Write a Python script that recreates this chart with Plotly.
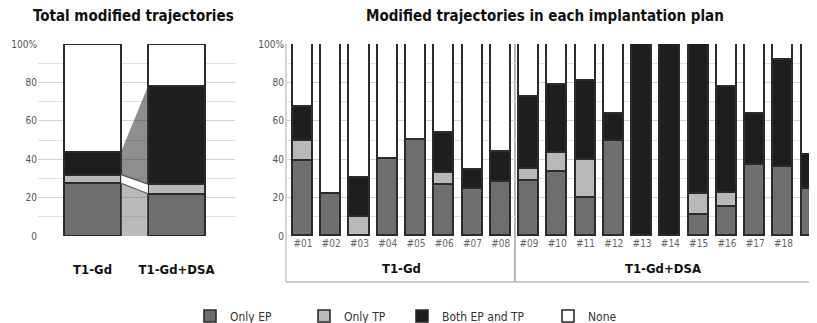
import plotly.graph_objects as go

# ---------------- data ----------------
series = ["Only EP", "Only TP", "Both EP and TP", "None"]
colors = ["#6e6e6e", "#b9b9b9", "#1e1e1e", "#ffffff"]

total_cats = ["T1-Gd", "T1-Gd+DSA"]
total_ep = [27.5, 22.0]
total_tp = [4.5, 5.0]
total_both = [12.0, 51.0]
total_none = [56.0, 22.0]

plan_cats = ["#01", "#02", "#03", "#04", "#05", "#06", "#07", "#08", "#09", "#10",
             "#11", "#12", "#13", "#14", "#15", "#16", "#17", "#18", "#19"]
plan_ep = [39.1, 21.7, 0.0, 40.3, 50.0, 26.6, 24.5, 28.2, 28.7, 33.2,
           19.7, 49.6, 0.0, 0.0, 11.0, 15.3, 37.0, 36.0, 24.5]
plan_tp = [10.5, 0.0, 9.9, 0.0, 0.0, 6.3, 0.0, 0.0, 6.1, 10.1,
           20.0, 0.0, 0.0, 0.0, 10.7, 7.3, 0.0, 0.0, 0.0]
plan_both = [17.4, 0.0, 20.5, 0.0, 0.0, 21.0, 9.8, 15.8, 37.4, 35.3,
             41.2, 13.9, 100.0, 100.0, 78.3, 55.1, 26.3, 55.7, 17.8]
plan_none = [33.0, 78.3, 69.6, 59.7, 50.0, 46.1, 65.7, 56.0, 27.8, 21.4,
             19.1, 36.5, 0.0, 0.0, 0.0, 22.3, 36.7, 8.3, 57.7]
groups = ["T1-Gd", "T1-Gd+DSA"]
group_sizes = [8, 11]

yticks = [0, 20, 40, 60, 80, 100]
ytick_text = ["0", "20", "40", "60", "80", "100%"]

FONT = "DejaVu Sans Condensed, Liberation Sans Narrow, sans-serif"

# The page body has an 8px default margin: the figure starts at (8, 8) in the window
OFF = 8
WIN_W, WIN_H = 817, 323
W, H = WIN_W - OFF, WIN_H - OFF


def fx(px):
    return (px - OFF) / W


def fy(py):
    return (WIN_H - py) / H


fig = go.Figure()

# ---- left panel: totals ----
tx = list(range(len(total_cats)))
bw_left = 0.68
tot_vals = [total_ep, total_tp, total_both, total_none]

# connectors between the two total bars (built from cumulative data)
cum0, cum1 = [0.0], [0.0]
for vals in tot_vals:
    cum0.append(cum0[-1] + vals[0])
    cum1.append(cum1[-1] + vals[1])
xa, xb = tx[0] + bw_left / 2, tx[1] - bw_left / 2
conn_fill = ["rgba(110,110,110,0.48)", "rgba(255,255,255,0.95)", "rgba(60,60,60,0.58)"]
for i in range(3):
    fig.add_trace(go.Scatter(x=[xa, xb, xb, xa, xa], y=[cum0[i], cum1[i], cum1[i + 1], cum0[i + 1], cum0[i]],
                             fill="toself", fillcolor=conn_fill[i], mode="lines",
                             line=dict(color="rgba(0,0,0,0)", width=0),
                             xaxis="x", yaxis="y", showlegend=False, hoverinfo="skip"))
for i in (1, 2):
    fig.add_trace(go.Scatter(x=[xa, xb], y=[cum0[i], cum1[i]], mode="lines",
                             line=dict(color="#555555", width=1.2),
                             xaxis="x", yaxis="y", showlegend=False, hoverinfo="skip"))

for name, vals, col in zip(series, tot_vals, colors):
    fig.add_trace(go.Bar(x=tx, y=vals, name=name, marker=dict(color=col, line=dict(color="#2b2b2b", width=2)),
                         width=bw_left, xaxis="x", yaxis="y", showlegend=False, cliponaxis=False,
                         hoverinfo="skip"))

# ---- right panel: each plan ----
px_ = list(range(len(plan_cats)))
plan_vals = [plan_ep, plan_tp, plan_both, plan_none]
legend_names = ["legend", "legend2", "legend3", "legend4"]
for name, vals, col, lg in zip(series, plan_vals, colors, legend_names):
    fig.add_trace(go.Bar(x=px_, y=vals, name=name, marker=dict(color=col, line=dict(color="#2b2b2b", width=1.6)),
                         width=0.71, xaxis="x2", yaxis="y2", showlegend=True, legend=lg, cliponaxis=False,
                         hoverinfo="skip"))

ydom = [fy(236), fy(44)]
yax = dict(range=[0, 100], tickvals=yticks, ticktext=ytick_text, showgrid=True, gridcolor="#d2d2d2",
           gridwidth=1, zeroline=False, showline=False, ticks="", domain=ydom, automargin=False,
           tickfont=dict(family=FONT, size=10, color="#555555"),
           minor=dict(dtick=10, showgrid=True, gridcolor="#e2e2e2"), fixedrange=True)

legend_x = [190, 304, 402, 548]
legend_common = dict(orientation="h", xanchor="left", y=fy(316), yanchor="middle",
                     font=dict(family=FONT, size=12, color="#333333"), itemwidth=30,
                     bgcolor="rgba(0,0,0,0)", borderwidth=0)

fig.update_layout(
    width=W, height=H, margin=dict(l=0, r=0, t=0, b=0, autoexpand=False),
    paper_bgcolor="white", plot_bgcolor="white",
    barmode="stack", bargap=0,
    font=dict(family=FONT, color="#222222"),
    xaxis=dict(domain=[fx(38), fx(235)], range=[-0.65, 1.696], tickvals=tx, ticktext=total_cats,
               showgrid=False, zeroline=False, showline=False, ticks="",
               tickfont=dict(family=FONT, size=13, color="#111111", weight="bold"),
               ticklabelstandoff=24, automargin=False),
    yaxis=yax,
    xaxis2=dict(domain=[fx(285), 1.0], range=[-0.637, 18.19], tickvals=px_, ticktext=plan_cats,
                showgrid=False, zeroline=False, showline=False, ticks="", automargin=False,
                tickfont=dict(family=FONT, size=10, color="#666666")),
    yaxis2=dict(yax, anchor="x2"),
    legend=dict(legend_common, x=fx(legend_x[0])),
    legend2=dict(legend_common, x=fx(legend_x[1])),
    legend3=dict(legend_common, x=fx(legend_x[2])),
    legend4=dict(legend_common, x=fx(legend_x[3])),
)

# group brackets in right panel
left_edge = -0.5
bounds = [left_edge]
for n in group_sizes:
    bounds.append(bounds[-1] + n)
bottom_y = fy(282)
fig.add_shape(type="line", xref="x2", yref="paper", x0=bounds[0] - 0.1, x1=bounds[0] - 0.1,
              y0=ydom[1], y1=bottom_y, line=dict(color="#c8c8c8", width=1.5), layer="below")
fig.add_shape(type="line", xref="x2", yref="paper", x0=bounds[1], x1=bounds[1],
              y0=ydom[1], y1=bottom_y, line=dict(color="#a0a0a0", width=1.5), layer="below")
fig.add_shape(type="line", xref="x2", yref="paper", x0=bounds[0] - 0.1, x1=bounds[2],
              y0=bottom_y, y1=bottom_y, line=dict(color="#bdbdbd", width=1.5))
fig.add_annotation(x=(bounds[0] + bounds[1]) / 2, y=fy(268), xref="x2", yref="paper",
                   xanchor="center", yanchor="middle",
                   text="<b>" + groups[0] + "</b>", showarrow=False,
                   font=dict(family=FONT, size=13, color="#111111"))
fig.add_annotation(x=(bounds[1] + 18.0) / 2, y=fy(268), xref="x2", yref="paper",
                   xanchor="center", yanchor="middle",
                   text="<b>" + groups[1] + "</b>", showarrow=False,
                   font=dict(family=FONT, size=13, color="#111111"))

# titles
fig.add_annotation(x=fx(133), y=fy(16), xref="paper", yref="paper", xanchor="center", yanchor="middle",
                   text="<b>Total modified trajectories</b>", showarrow=False,
                   font=dict(family=FONT, size=15, color="#111111"))
fig.add_annotation(x=fx(545), y=fy(16), xref="paper", yref="paper", xanchor="center", yanchor="middle",
                   text="<b>Modified trajectories in each implantation plan</b>", showarrow=False,
                   font=dict(family=FONT, size=15, color="#111111"))

fig.write_html("out.html")
